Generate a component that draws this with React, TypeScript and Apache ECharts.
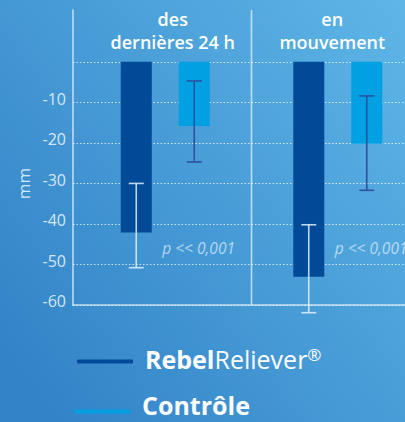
import React, { useEffect, useRef } from "react";
import * as echarts from "echarts";

const categories = ["des\ndernières 24 h", "en\nmouvement"];
const seriesNames = ["RebelReliever®", "Contrôle"];
const rebelValues = [-42.1, -53.0];
const controlValues = [-15.8, -20.2];
const rebelErrHigh = [-30.0, -40.2];
const rebelErrLow = [-50.8, -61.9];
const controlErrHigh = [-4.7, -8.4];
const controlErrLow = [-24.7, -31.7];
const pValueLabels = ["p << 0,001", "p << 0,001"];
const pValueY = [-46, -46];
const yMin = -60;
const yMax = 0;
const yInterval = 10;

const FONT = "Open Sans";
const AXIS_COLOR = "rgba(232,243,252,0.75)";
const LABEL_COLOR = "rgba(232,243,252,0.9)";
const DARK = "#004a97";
const LIGHT = "#00a0e3";
const BAR_W = 31;
const BAR_OFF = 29;

function errorRenderer(offset: number, color: string) {
  return (params: any, api: any) => {
    const hi = api.coord([api.value(0), api.value(1)]);
    const lo = api.coord([api.value(0), api.value(2)]);
    const x = hi[0] + offset;
    const style = { stroke: color, lineWidth: 1.6 };
    return {
      type: "group",
      children: [
        { type: "line", shape: { x1: x, y1: hi[1], x2: x, y2: lo[1] }, style },
        { type: "line", shape: { x1: x - 7.5, y1: hi[1], x2: x + 7.5, y2: hi[1] }, style },
        { type: "line", shape: { x1: x - 7.5, y1: lo[1], x2: x + 7.5, y2: lo[1] }, style },
      ],
    };
  };
}

function dividerRenderer(params: any, api: any) {
  const a = api.coord([api.value(0), 0]);
  const b = api.coord([api.value(1), 0]);
  const x = (a[0] + b[0]) / 2;
  const cs = params.coordSys;
  return {
    type: "line",
    shape: { x1: x, y1: cs.y, x2: x, y2: cs.y + cs.height },
    style: { stroke: AXIS_COLOR, lineWidth: 1.6 },
  };
}

function legendRich(bottomPad: number) {
  return {
    b: { fontSize: 25, fontWeight: 700, color: "#ffffff", fontFamily: FONT, padding: [0, 0, bottomPad, 7] },
    r: { fontSize: 25, fontWeight: 400, color: "#ffffff", fontFamily: FONT, padding: [0, 0, bottomPad, 0] },
    s: { fontSize: 17, fontWeight: 400, color: "#ffffff", fontFamily: FONT, verticalAlign: "top" },
  };
}

const legendFormatter = (name: string) =>
  name === seriesNames[0] ? "{b|Rebel}{r|Reliever}{s|®}" : "{b|" + name + "}";

export default function App() {
  const ref = useRef<HTMLDivElement>(null);
  useEffect(() => {
    if (!ref.current) return;
    const chart = echarts.init(ref.current, null, { renderer: "svg" });
    const labelPads = [
      [0, 0, 0, 24],
      [0, 8, 0, 0],
    ];
    chart.setOption({
      animation: false,
      backgroundColor: new echarts.graphic.LinearGradient(0, 0.8, 1, 0, [
        { offset: 0, color: "#3384c7" },
        { offset: 1, color: "#5eb6e7" },
      ]),
      grid: [
        { left: 73, top: 62, width: 351, height: 243, outerBoundsMode: "none", containLabel: false },
        { left: 79, top: 10, width: 345, height: 295, outerBoundsMode: "none", containLabel: false },
      ],
      xAxis: [
        {
          gridIndex: 0,
          type: "category",
          data: categories,
          position: "bottom",
          axisLine: { onZero: false, lineStyle: { color: AXIS_COLOR, width: 1.6 } },
          axisTick: { show: false },
          axisLabel: { show: false },
          splitLine: { show: false },
        },
        {
          gridIndex: 0,
          type: "category",
          position: "top",
          data: categories.map((c, i) => ({ value: c, textStyle: { padding: labelPads[i] } })),
          axisLine: { show: false },
          axisTick: { show: false },
          axisLabel: {
            color: "#ffffff",
            fontFamily: FONT,
            fontSize: 18,
            fontWeight: 600,
            lineHeight: 23,
            margin: 9,
          },
          splitLine: { show: false },
        },
        {
          gridIndex: 1,
          type: "category",
          data: categories,
          axisLine: { show: false, onZero: false },
          axisTick: { show: false },
          axisLabel: { show: false },
          splitLine: { show: false },
        },
      ],
      yAxis: [
        {
          gridIndex: 0,
          type: "value",
          min: yMin,
          max: yMax,
          interval: yInterval,
          axisLine: { show: false },
          axisTick: { show: false },
          axisLabel: {
            formatter: (v: number) => (v === 0 ? "" : "{t|" + String(v) + "}"),
            margin: 7,
            rich: {
              t: {
                color: LABEL_COLOR,
                fontFamily: FONT,
                fontSize: 16,
                padding: [0, 0, 8, 0],
              },
            },
          },
          splitLine: {
            show: true,
            lineStyle: { color: "rgba(255,255,255,0.75)", width: 1, type: [1.5, 2] },
          },
          name: "mm",
          nameLocation: "middle",
          nameGap: 38,
          nameTextStyle: { color: LABEL_COLOR, fontFamily: FONT, fontSize: 17 },
        },
        {
          gridIndex: 1,
          type: "value",
          min: yMin,
          max: 12.8,
          offset: 6,
          axisLine: { show: true, onZero: false, lineStyle: { color: AXIS_COLOR, width: 1.6 } },
          axisTick: { show: false },
          axisLabel: { show: false },
          splitLine: { show: false },
        },
      ],
      legend: [
        {
          data: [seriesNames[0]],
          orient: "vertical",
          left: 77,
          top: 346,
          padding: 0,
          itemWidth: 56,
          itemHeight: 4,
          icon: "roundRect",
          formatter: legendFormatter,
          textStyle: { color: "#ffffff", fontFamily: FONT, rich: legendRich(6) },
        },
        {
          data: [seriesNames[1]],
          orient: "vertical",
          left: 74,
          top: 392,
          padding: 0,
          itemWidth: 56,
          itemHeight: 4,
          icon: "roundRect",
          formatter: legendFormatter,
          textStyle: { color: "#ffffff", fontFamily: FONT, rich: legendRich(14) },
        },
      ],
      series: [
        {
          name: seriesNames[0],
          type: "bar",
          xAxisIndex: 2,
          yAxisIndex: 1,
          data: rebelValues,
          barWidth: BAR_W,
          barGap: "87%",
          itemStyle: { color: DARK },
          z: 2,
        },
        {
          name: seriesNames[1],
          type: "bar",
          xAxisIndex: 2,
          yAxisIndex: 1,
          data: controlValues,
          barWidth: BAR_W,
          barGap: "87%",
          itemStyle: { color: LIGHT },
          z: 2,
        },
        {
          name: "divider",
          type: "custom",
          xAxisIndex: 2,
          yAxisIndex: 1,
          data: [[0, 1]],
          renderItem: dividerRenderer,
          z: 1,
          silent: true,
        },
        {
          name: "errRebel",
          type: "custom",
          xAxisIndex: 2,
          yAxisIndex: 1,
          data: categories.map((_, i) => [i, rebelErrHigh[i], rebelErrLow[i]]),
          renderItem: errorRenderer(-BAR_OFF, "rgba(225,240,250,0.85)"),
          z: 5,
          silent: true,
        },
        {
          name: "errControl",
          type: "custom",
          xAxisIndex: 2,
          yAxisIndex: 1,
          data: categories.map((_, i) => [i, controlErrHigh[i], controlErrLow[i]]),
          renderItem: errorRenderer(BAR_OFF, "#2b52a0"),
          z: 5,
          silent: true,
        },
        {
          name: "pValues",
          type: "scatter",
          xAxisIndex: 2,
          yAxisIndex: 1,
          symbolSize: 0,
          data: categories.map((_, i) => [i, pValueY[i]]),
          label: {
            show: true,
            position: "right",
            distance: 0,
            offset: [-3, 0],
            formatter: (p: any) => pValueLabels[p.dataIndex],
            color: "rgba(225,240,250,0.9)",
            fontFamily: FONT,
            fontStyle: "italic",
            fontSize: 15.5,
          },
          z: 6,
          silent: true,
        },
      ],
    });
    return () => chart.dispose();
  }, []);
  return (
    <div
      ref={ref}
      style={{ position: "absolute", left: 0, top: 0, width: 405, height: 422 }}
    />
  );
}
